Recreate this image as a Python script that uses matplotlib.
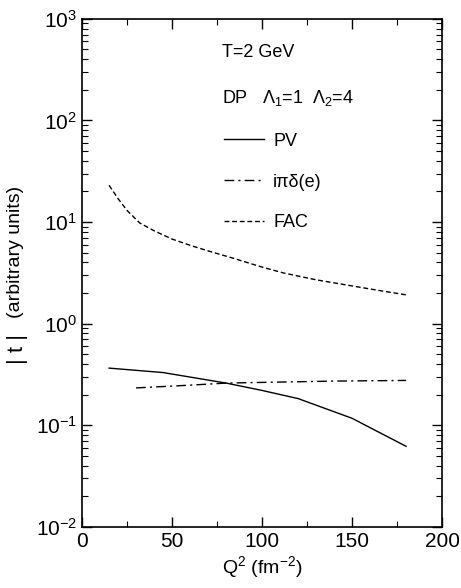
import matplotlib
matplotlib.use('Agg')
import matplotlib.pyplot as plt
from matplotlib.lines import Line2D
from matplotlib.ticker import MultipleLocator, LogLocator

plt.rcParams['font.family'] = ['Liberation Sans', 'DejaVu Sans']
plt.rcParams['mathtext.fontset'] = 'custom'
plt.rcParams['mathtext.rm'] = 'Liberation Sans'
plt.rcParams['mathtext.it'] = 'Liberation Sans:italic'

# values
q2_pv = [15, 45, 80, 100, 120, 150, 180]
pv = [0.365, 0.33, 0.26, 0.22, 0.183, 0.117, 0.062]

q2_delta = [30, 60, 80, 110, 140, 180]
delta = [0.233, 0.248, 0.26, 0.266, 0.272, 0.276]

q2_fac = [15, 20, 25, 32, 40, 50, 60, 70, 84, 100, 112, 130, 150, 165, 180]
fac = [23.0, 17.0, 13.0, 9.8, 8.2, 6.8, 5.9, 5.2, 4.4, 3.6, 3.15, 2.7, 2.35, 2.12, 1.92]

legend_labels = ['PV', 'iπδ(e)', 'FAC']

fig = plt.figure(figsize=(4.61, 5.88), dpi=100)
ax = fig.add_axes([0.178, 0.104, 0.781, 0.864])

ax.plot(q2_pv, pv, color='black', lw=1.0, ls='-')
ax.plot(q2_delta, delta, color='black', lw=1.0, ls=(0, (7, 3, 1.5, 3)))
ax.plot(q2_fac, fac, color='black', lw=1.0, ls=(0, (3.5, 2)))

ax.set_yscale('log')
ax.set_xlim(0, 200)
ax.set_ylim(1e-2, 1e3)
ax.xaxis.set_major_locator(MultipleLocator(50))
ax.xaxis.set_minor_locator(MultipleLocator(25))
ax.yaxis.set_major_locator(LogLocator(base=10))
ax.yaxis.set_minor_locator(LogLocator(base=10, subs=range(2, 10)))

ax.tick_params(which='both', direction='in', top=True, right=True, labelsize=15)
ax.tick_params(which='major', length=7, width=1)
ax.tick_params(which='minor', length=4, width=0.8)
ax.tick_params(axis='x', pad=4)
for s in ax.spines.values():
    s.set_linewidth(1.2)

ax.set_xlabel(r'Q$^2$ (fm$^{-2}$)', fontsize=14, labelpad=2)

# y label: big |t| plus smaller "(arbitrary units)"
fig.text(0.016, 1 - 364 / 588, '| t |', rotation=90, fontsize=16, va='bottom', ha='left')
fig.text(0.016, 1 - 318 / 588, '(arbitrary units)', rotation=90, fontsize=14, va='bottom', ha='left')

ax.text(0.39, 0.925, 'T=2 GeV', transform=ax.transAxes, fontsize=13)
ax.text(0.39, 0.834, r'DP   $\mathrm{\Lambda}_1$=1  $\mathrm{\Lambda}_2$=4', transform=ax.transAxes, fontsize=13)

styles = ['-', (0, (7, 3, 1.5, 3)), (0, (3.5, 2))]
handles = [Line2D([], [], color='black', lw=1.0, ls=st) for st in styles]
ax.legend(handles, legend_labels, loc='upper left', bbox_to_anchor=(0.375, 0.79),
          frameon=False, fontsize=13, handlelength=2.2, handletextpad=0.5,
          labelspacing=1.32, borderaxespad=0)

fig.savefig('out.png', dpi=100)
